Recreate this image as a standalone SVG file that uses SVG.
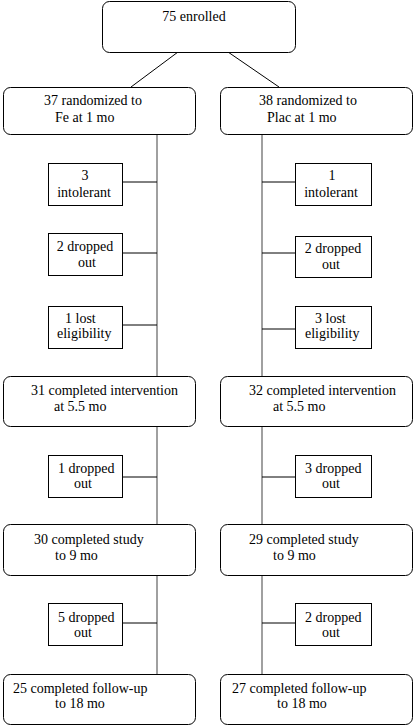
<svg xmlns="http://www.w3.org/2000/svg" width="415" height="726" viewBox="0 0 415 726">
<style>
  .rb { fill: #fff; stroke: #000; stroke-width: 1; }
  .sb { fill: #fff; stroke: #000; stroke-width: 1; }
  text { font-family: 'Liberation Serif', Tinos, 'Times New Roman', Times, 'DejaVu Serif', serif; font-size: 14px; fill: #000; }
  .m { text-anchor: middle; }
  .v { stroke: #808080; stroke-width: 1.5; fill: none; }
  .h { stroke: #000; stroke-width: 1; fill: none; }
</style>
<rect width="415" height="726" fill="#fff"/>
<g id="connectors">
  <line class="h" x1="178" y1="52" x2="131" y2="87"/>
  <line class="h" x1="228" y1="52" x2="279" y2="87"/>
  <line class="v" x1="157" y1="134" x2="157" y2="376"/>
  <line class="v" x1="157" y1="426" x2="157" y2="524"/>
  <line class="v" x1="157" y1="575" x2="157" y2="674"/>
  <line class="v" x1="262" y1="134" x2="262" y2="376"/>
  <line class="v" x1="262" y1="426" x2="262" y2="524"/>
  <line class="v" x1="262" y1="575" x2="262" y2="674"/>
  <line class="h" x1="123" y1="182" x2="157" y2="182"/>
  <line class="h" x1="123" y1="253" x2="157" y2="253"/>
  <line class="h" x1="123" y1="325" x2="157" y2="325"/>
  <line class="h" x1="123" y1="477" x2="157" y2="477"/>
  <line class="h" x1="123" y1="623" x2="157" y2="623"/>
  <line class="h" x1="262" y1="182" x2="295" y2="182"/>
  <line class="h" x1="262" y1="253" x2="295" y2="253"/>
  <line class="h" x1="262" y1="329" x2="295" y2="329"/>
  <line class="h" x1="262" y1="477" x2="295" y2="477"/>
  <line class="h" x1="262" y1="623" x2="295" y2="623"/>
</g>
<g id="enrolled">
  <rect class="rb" x="102.5" y="1.5" width="193" height="51" rx="7"/>
  <text class="m" x="194" y="21">75 enrolled</text>
</g>
<g id="fe">
  <rect class="rb" x="3.5" y="87.5" width="192" height="47" rx="7"/>
  <text x="44" y="105">37 randomized to</text>
  <text x="55" y="122">Fe at 1 mo</text>
</g>
<g id="plac">
  <rect class="rb" x="220.5" y="87.5" width="192" height="47" rx="7"/>
  <text x="259" y="105">38 randomized to</text>
  <text x="267" y="122">Plac at 1 mo</text>
</g>
<g id="fe-intolerant">
  <rect class="sb" x="48.5" y="163.5" width="74" height="42"/>
  <text class="m" x="85" y="180">3</text>
  <text class="m" x="84" y="197">intolerant</text>
</g>
<g id="fe-dropped1">
  <rect class="sb" x="48.5" y="233.5" width="74" height="42"/>
  <text class="m" x="85" y="251">2 dropped</text>
  <text class="m" x="87" y="267">out</text>
</g>
<g id="fe-lost">
  <rect class="sb" x="48.5" y="306.5" width="74" height="42"/>
  <text x="65" y="323">1 lost</text>
  <text x="57" y="338">eligibility</text>
</g>
<g id="plac-intolerant">
  <rect class="sb" x="295.5" y="163.5" width="76" height="42"/>
  <text class="m" x="332" y="180">1</text>
  <text class="m" x="331" y="197">intolerant</text>
</g>
<g id="plac-dropped1">
  <rect class="sb" x="295.5" y="236.5" width="76" height="41"/>
  <text class="m" x="333" y="253">2 dropped</text>
  <text class="m" x="331" y="269">out</text>
</g>
<g id="plac-lost">
  <rect class="sb" x="295.5" y="306.5" width="76" height="42"/>
  <text x="315" y="323">3 lost</text>
  <text x="305" y="338">eligibility</text>
</g>
<g id="fe-interv">
  <rect class="rb" x="3.5" y="376.5" width="192" height="50" rx="7"/>
  <text x="31" y="395">31 completed intervention</text>
  <text x="54" y="411">at 5.5 mo</text>
</g>
<g id="plac-interv">
  <rect class="rb" x="220.5" y="376.5" width="192" height="50" rx="7"/>
  <text x="249" y="395">32 completed intervention</text>
  <text x="273" y="411">at 5.5 mo</text>
</g>
<g id="fe-dropped2">
  <rect class="sb" x="48.5" y="455.5" width="74" height="42"/>
  <text x="58" y="473">1 dropped</text>
  <text class="m" x="83" y="488">out</text>
</g>
<g id="plac-dropped2">
  <rect class="sb" x="295.5" y="455.5" width="76" height="42"/>
  <text x="305" y="473">3 dropped</text>
  <text class="m" x="331" y="488">out</text>
</g>
<g id="fe-study">
  <rect class="rb" x="3.5" y="524.5" width="192" height="51" rx="7"/>
  <text x="34" y="544">30 completed study</text>
  <text x="55" y="560">to 9 mo</text>
</g>
<g id="plac-study">
  <rect class="rb" x="220.5" y="524.5" width="192" height="51" rx="7"/>
  <text x="249" y="544">29 completed study</text>
  <text x="273" y="560">to 9 mo</text>
</g>
<g id="fe-dropped3">
  <rect class="sb" x="48.5" y="603.5" width="74" height="42"/>
  <text x="58" y="622">5 dropped</text>
  <text class="m" x="83" y="637">out</text>
</g>
<g id="plac-dropped3">
  <rect class="sb" x="295.5" y="603.5" width="76" height="42"/>
  <text x="305" y="622">2 dropped</text>
  <text class="m" x="331" y="637">out</text>
</g>
<g id="fe-followup">
  <rect class="rb" x="3.5" y="674.5" width="192" height="50" rx="7"/>
  <text x="13" y="693">25 completed follow-up</text>
  <text x="55" y="708">to 18 mo</text>
</g>
<g id="plac-followup">
  <rect class="rb" x="220.5" y="674.5" width="192" height="50" rx="7"/>
  <text x="232" y="693">27 completed follow-up</text>
  <text x="277" y="708">to 18 mo</text>
</g>
</svg>
